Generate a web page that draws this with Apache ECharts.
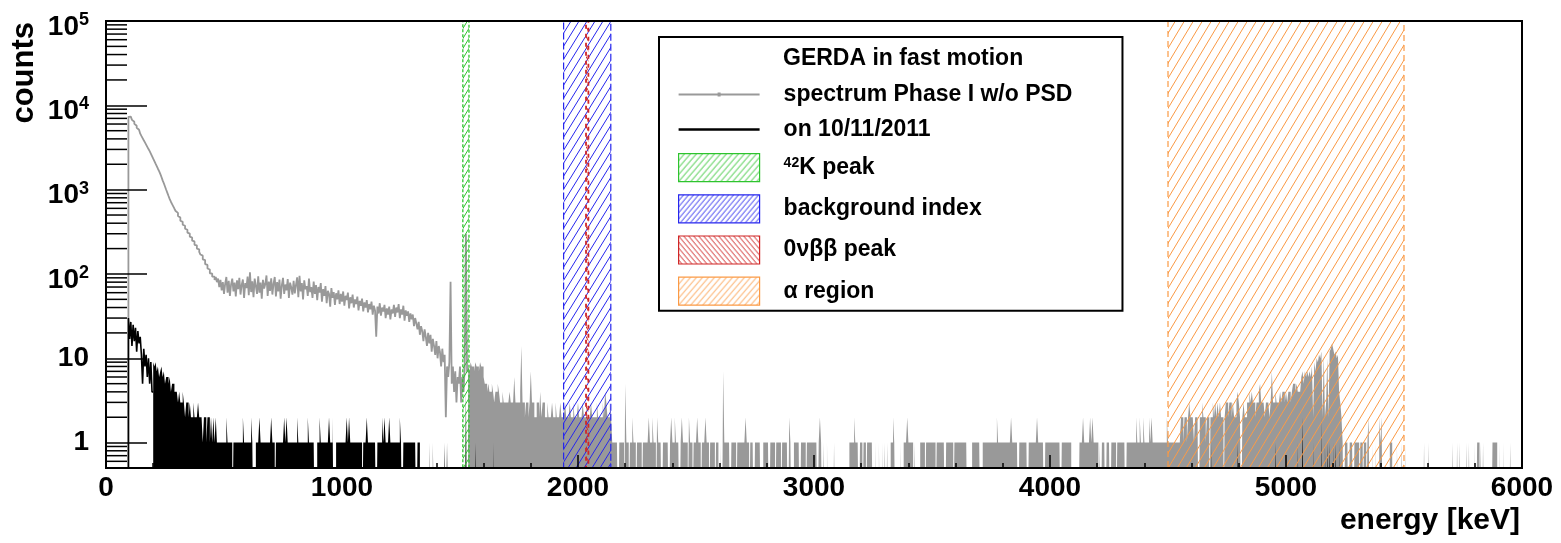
<!DOCTYPE html>
<html>
<head>
<meta charset="utf-8">
<title>GERDA spectrum</title>
<script src="https://cdn.jsdelivr.net/npm/echarts/dist/echarts.min.js"></script>
<style>
  html, body { margin: 0; padding: 0; background: #ffffff; }
  #chart { width: 1561px; height: 543px; }
</style>
</head>
<body>
<div id="chart"></div>
<script>
// ---------------------------------------------------------------------------
// Histogram contents, counts per 5 keV bin.
// ---------------------------------------------------------------------------
const BIN_KEV = 5;

// Phase I spectrum without PSD: low-energy part, bins from 95 keV
const grayCurveStart = 95;
const grayCurve = [
  7300,7350,7150,6730,6380,6040,5730,5420,5140,4870,4610,4340,4090,3850,3630,3420,3220,3030,2860,2680, // 95
  2500,2330,2180,2030,1900,1770,1660,1540,1410,1290,1190,1090,998,916,840,771,719,675,634,594,          // 195
  558,530,487,466,428,415,384,373,344,334,309,301,277,270,248,243,222,219,200,196,                      // 295
  183,170,165,149,146,131,128,116,113,102,101,93,93,85,92,80,88,70,85,64,                               // 395
  80,58,77,92,60,83,55,75,88,62,79,54,84,66,90,57,74,86,52,78,                                          // 495
  68,93,56,105,61,82,53,88,72,58,94,60,79,51,85,67,76,96,55,81,                                         // 595
  63,89,57,77,92,54,80,62,86,51,73,90,58,75,64,87,52,79,69,57,                                          // 695
  83,59,74,91,53,95,62,78,50,84,66,72,55,88,61,70,52,81,58,74,                                          // 795
  49,70,60,78,47,66,55,72,45,63,58,41,68,52,61,43,59,50,64,44,                                          // 895
  58,47,62,42,55,49,60,39,53,45,57,40,50,44,54,37,48,42,51,36,                                          // 995
  46,40,49,35,44,38,47,33,42,37,18,41,34,45,32,40,36,43,30,39,                                          // 1095
  33,41,29,38,34,43,31,40,35,44,30,38,33,42,28,37,32,36,27,34,                                          // 1195
  29,33,24,30,26,22,27,19,24,21,16,22,18,14,20,15,19,12,17,14,                                          // 1295
  11,16,10,14,12,8,13,9,11,2,8,6,9,81,5,8,4,7,3,6,                                                      // 1395
  5,8,3,6,4,8,300,7                                                                                      // 1495
];

// Phase I spectrum, sparse high-energy part, bins from 1535 keV
const grayTailStart = 1535;
const grayTail = [
  8,7,9,8,8,7,9,8,8,7,9,8,8,                          // 1535
  6,5,5,4,5,4,4,5,4,3,4,4,5,4,3,3,4,3,3,3,            // 1600
  3,3,4,3,3,3,6,3,3,3,3,4,14,3,3,2,3,3,2,3,           // 1700
  7,3,3,2,2,3,3,2,4,2,3,3,2,2,3,2,2,2,3,2,            // 1800
  2,3,2,2,2,3,2,2,2,3,2,2,2,3,2,2,3,2,2,2,            // 1900
  3,2,2,2,3,2,2,3,2,2,2,3,2,2,2,2,3,2,2,2,            // 2000
  2,3,2,4,3,2,2,3,2,1,1,1,1,1,0,1,1,1,1,0,            // 2100
  5,1,1,0,1,1,2,1,1,0,1,1,1,1,0,1,1,1,1,1,            // 2200
  2,1,1,2,1,1,0,2,1,1,1,0,1,1,1,1,1,0,1,2,            // 2300
  1,1,2,1,1,1,0,1,2,1,1,1,1,0,2,1,1,0,1,1,            // 2400
  1,2,1,1,0,1,1,1,2,1,1,0,1,1,1,1,0,1,1,0,            // 2500
  0,1,0,7,1,1,1,1,1,0,1,1,1,1,0,1,1,1,1,1,            // 2600
  1,1,2,1,1,0,1,1,1,0,1,1,1,1,1,0,0,1,1,1,            // 2700
  1,1,0,1,1,1,1,0,1,1,1,1,0,1,1,1,1,1,0,2,            // 2800
  1,0,0,1,1,1,1,1,0,1,1,1,1,0,1,1,1,1,1,1,            // 2900
  1,1,1,0,1,2,1,0,1,0,0,1,0,0,0,0,0,1,0,0,            // 3000
  0,0,0,0,0,0,0,0,0,0,1,1,1,1,2,1,1,1,0,1,            // 3100
  1,0,1,1,0,1,1,1,1,1,0,0,1,0,0,1,0,0,1,0,            // 3200
  1,0,1,0,0,1,1,2,1,0,0,0,0,1,0,0,1,1,1,2,            // 3300
  1,1,1,1,0,1,0,0,0,0,1,1,1,1,0,1,1,1,1,1,            // 3400
  1,1,1,0,1,1,1,1,1,1,1,0,1,1,1,1,1,1,0,1,            // 3500
  1,1,1,1,1,1,1,1,1,1,0,0,0,0,1,1,1,1,1,1,            // 3600
  1,0,0,1,1,1,1,1,1,1,1,1,1,1,1,2,1,1,1,1,            // 3700
  1,1,1,1,1,1,1,2,1,1,1,1,1,0,1,1,1,1,1,1,            // 3800
  1,0,1,1,1,1,1,1,1,2,1,1,1,1,1,0,1,1,1,1,            // 3900
  1,1,1,1,1,1,1,1,1,0,1,1,1,1,1,1,1,1,0,0,            // 4000
  0,0,0,0,0,1,1,1,2,1,1,1,1,1,2,1,2,1,1,1,            // 4100
  1,0,1,0,1,1,1,0,1,1,1,0,1,1,1,1,0,1,1,1,            // 4200
  1,1,1,1,0,1,1,1,1,1,1,1,1,2,1,1,2,1,1,2,            // 4300
  1,1,1,1,2,1,2,1,1,1,1,1,1,1,1,1,1,1,1,2,            // 4400
  1,1,1,1,1,1,1,1,1,1,1,2,2,1,2,2,1,2,3,2,            // 4500
  2,2,1,2,2,2,0,2,2,3,2,2,1,2,2,0,2,2,3,2,            // 4600
  3,2,3,2,3,2,2,0,2,3,3,2,3,3,2,3,2,2,3,4,            // 4700
  3,2,0,2,3,2,2,3,3,4,3,4,3,3,2,3,3,4,5,3,            // 4800
  3,3,2,3,3,3,2,3,7,3,3,4,3,3,3,4,3,4,4,3,            // 4900
  4,3,4,4,3,4,5,5,4,5,4,4,4,6,7,5,7,6,7,6,            // 5000
  7,6,8,2,9,7,10,9,11,10,12,2,11,2,3,10,2,12,13,15,   // 5100
  13,11,12,10,11,4,3,2,1,0,1,1,1,0,1,1,1,0,1,1,       // 5200
  1,1,0,1,1,0,1,1,0,1,2,0,0,1,0,0,1,0,0,2,            // 5300
  1,2,0,0,0,0,0,0,1,1,0,0,0,0,1,0,0,0,1,0,            // 5400
  0,1,0,0,0,0,0,0,0,0,0,0,0,0,0,0,0,1,0,0,            // 5500
  0,1,0,0,0,0,0,0,0,0,0,0,0,0,0,0,0,0,0,0,            // 5600
  0,1,0,0,0,1,0,1,0,0,0,0,0,1,0,1,0,0,0,0,            // 5700
  1,0,1,1,0,1,0,1,0,0,0,0,0,0,0,1,1,1,1,0,            // 5800
  0,1,0,0,1,0,0,0,0,0,1,0,0,0,0,0,0,0,0,0             // 5900
];

// Single day (10/11/2011): low-energy part, bins from 95 keV
const blackCurveStart = 95;
const blackCurve = [30,17,27,14,25,16,23,12,21,15,18,11,5,13,8,11,6,10,5,9,4];

// Single day, bins from 200 keV up to 1600 keV
const blackTail = [
  9,8,9,7,8,6,7,8,6,7,5,6,6,5,6,4,5,5,4,4,    // 200
  4,3,4,3,3,4,3,2,3,3,2,3,2,2,3,2,2,2,3,2,    // 300
  2,2,1,2,2,1,2,2,1,2,1,2,1,2,1,1,1,1,1,1,    // 400
  1,1,2,1,1,1,1,0,1,1,1,1,1,1,1,1,2,1,1,1,    // 500
  1,1,1,2,1,0,0,1,1,1,2,1,1,1,1,1,1,1,1,1,    // 600
  2,1,1,0,1,1,1,1,1,1,1,2,1,2,1,1,1,1,1,1,    // 700
  1,1,2,1,1,1,1,1,1,1,1,2,1,1,1,1,1,0,0,1,    // 800
  1,2,1,1,1,1,1,1,1,2,1,1,2,0,0,1,1,1,1,1,    // 900
  1,1,1,1,2,1,2,1,1,1,1,1,1,1,1,1,1,0,1,1,    // 1000
  1,2,1,1,1,1,1,1,1,0,1,1,1,1,2,1,2,1,1,1,    // 1100
  2,1,1,1,1,1,1,1,1,2,1,0,1,1,1,1,1,1,1,1,    // 1200
  1,1,1,0,1,1,0,0,0,0,0,0,0,0,1,0,0,1,0,0,    // 1300
  0,0,0,0,0,0,0,1,0,1,0,0,0,0,0,0,0,0,0,0,    // 1400
  0,0,0,0,0,4,0,0,0,0,0,0,0,1,0,0,0,0,0,0     // 1500
];
const blackTailStart = 200;

// Single day above 1600 keV: [bin start keV, counts], all other bins empty
const blackSparse = [
  [1640,1],[4685,1],[4795,1],[4955,1],[5050,1],[5070,2],[5115,1],
  [5150,2],[5165,1],[5175,1],[5185,1],[5200,1],[5210,1],[5225,1]
];

// Shaded energy windows (keV)
const bandNames = ['42K peak', 'background index', '0νββ peak', 'α region'];
const bandLow   = [1512, 1939, 2034, 4500];
const bandHigh  = [1538, 2139, 2044, 5500];

// Series / legend labels
const SPEC = 'spectrum Phase I w/o PSD';
const DAY = 'on 10/11/2011';
const LEGEND_TITLE = 'GERDA in fast motion';

// ---------------------------------------------------------------------------
const FONT = '"Liberation Sans", Arial, Helvetica, sans-serif';
const Y_MIN = 0.5, Y_MAX = 100000;
const X_MIN = 0, X_MAX = 6000;
const EMPTY = Y_MIN / 10;   // empty bins sit below the visible log range

// step outline points; optional vertical lead-in from the floor
function steps(start, vals, fromFloor) {
  const pts = fromFloor ? [[start, Y_MIN]] : [];
  vals.forEach((v, i) => pts.push([start + i * BIN_KEV, v > 0 ? v : EMPTY]));
  const last = vals[vals.length - 1];
  pts.push([start + vals.length * BIN_KEV, last > 0 ? last : EMPTY]);
  return pts;
}

const blackHigh = new Array((X_MAX - 1600) / BIN_KEV).fill(0);
blackSparse.forEach(([e, n]) => { blackHigh[(e - 1600) / BIN_KEV] = n; });
const blackTailAll = blackTail.concat(blackHigh);

// log-axis minor ticks at 2..9 x decade
const yMinorTicks = [];
[0.1, 1, 10, 100, 1000, 10000].forEach(d => {
  for (let m = 2; m <= 9; m++) {
    const v = m * d;
    if (v > Y_MIN && v < Y_MAX) yMinorTicks.push(v);
  }
});

// diagonal hatch fill
function hatch(color, w, h, dir, lw) {
  const c = document.createElement('canvas');
  c.width = w; c.height = h;
  const ctx = c.getContext('2d');
  ctx.strokeStyle = color;
  ctx.lineWidth = lw;
  ctx.beginPath();
  for (let k = -1; k <= 1; k++) {
    if (dir === '/') { ctx.moveTo(k * w, h); ctx.lineTo((k + 1) * w, 0); }
    else { ctx.moveTo(k * w, 0); ctx.lineTo((k + 1) * w, h); }
  }
  ctx.stroke();
  return { image: c, repeat: 'repeat' };
}

const bandStyle = [
  { color: '#2ec42e', plot: hatch('#2ec42e', 6, 10, '/', 1), legend: hatch('#2ec42e', 6, 7, '/', 1), dash: [3, 2], width: 1.3 },
  { color: '#2626ee', plot: hatch('#2626ee', 8, 13, '/', 1), legend: hatch('#2626ee', 5, 6, '/', 1), dash: [7, 3], width: 1.2 },
  { color: '#d02626', plot: hatch('#d02626', 6, 10, '\\', 1), legend: hatch('#d02626', 5, 6, '\\', 1), dash: [4, 5], width: 1.8 },
  { color: '#fb9a45', plot: hatch('#fb9a45', 9, 15, '/', 1), legend: hatch('#fb9a45', 6, 7, '/', 1), dash: [6, 4], width: 1.2 }
];

function lineHist(name, color, width, data, z) {
  return {
    type: 'line', name, data, z, step: 'end', symbol: 'none', showSymbol: false,
    clip: true, silent: true, animation: false,
    lineStyle: { color, width }, itemStyle: { color },
    emphasis: { disabled: true }
  };
}
function filledHist(name, color, data, z) {
  return {
    type: 'line', name, data, z, step: 'end', symbol: 'none', showSymbol: false,
    clip: true, silent: true, animation: false,
    lineStyle: { color, width: 0 }, itemStyle: { color },
    areaStyle: { color, opacity: 1, origin: 'start' },
    emphasis: { disabled: true }
  };
}

const bandSeries = bandNames.map((name, i) => ({
  type: 'custom', name, z: 5, silent: true, clip: true, animation: false,
  encode: { x: [0, 1], y: [2, 3] },
  data: [[bandLow[i], bandHigh[i], Y_MIN, Y_MAX]],
  itemStyle: { color: bandStyle[i].legend, borderColor: bandStyle[i].color },
  renderItem: (params, api) => {
    const a = api.coord([api.value(0), api.value(3)]);
    const b = api.coord([api.value(1), api.value(2)]);
    return {
      type: 'rect',
      shape: { x: a[0], y: a[1], width: b[0] - a[0], height: b[1] - a[1] },
      style: { fill: bandStyle[i].plot, stroke: bandStyle[i].color, lineWidth: bandStyle[i].width, lineDash: bandStyle[i].dash }
    };
  }
}));

const minorTickSeries = {
  type: 'custom', z: 10, silent: true, clip: false, animation: false,
  encode: { x: 0, y: 1 },
  data: yMinorTicks.map(v => [X_MIN, v]),
  renderItem: (params, api) => {
    const p = api.coord([api.value(0), api.value(1)]);
    return { type: 'line', shape: { x1: p[0], y1: p[1], x2: p[0] + 21, y2: p[1] }, style: { stroke: '#000', lineWidth: 1.5 } };
  }
};

const labelText = { fontFamily: FONT, fontWeight: 'bold', color: '#000' };

const option = {
  animation: false,
  backgroundColor: '#ffffff',
  grid: {
    left: 106, right: 39, top: 21, bottom: 75, containLabel: false, outerBoundsMode: 'none',
    show: true, borderColor: '#000', borderWidth: 2, backgroundColor: 'transparent', z: 7
  },
  title: {
    text: LEGEND_TITLE, left: 783, top: 47, padding: 0, z: 10,
    textStyle: Object.assign({ fontSize: 23 }, labelText)
  },
  legend: {
    orient: 'vertical', left: 659, top: 37, padding: [46, 50, 5, 19],
    itemWidth: 81, itemHeight: 28, itemGap: 12, selectedMode: false,
    backgroundColor: '#fff', borderColor: '#000', borderWidth: 2,
    textStyle: Object.assign({
      fontSize: 23, padding: [0, 0, 0, 19],
      rich: {
        sup: Object.assign({ fontSize: 14, verticalAlign: 'top' }, labelText),
        base: Object.assign({ fontSize: 23 }, labelText)
      }
    }, labelText),
    formatter: name => name === bandNames[0] ? '{sup|42}{base|K peak}' : name,
    data: [
      { name: SPEC, icon: 'path://M0 1H81V3H0Z M39 0H42V4H39Z', itemStyle: { color: '#999', borderWidth: 0 } },
      { name: DAY, icon: 'path://M0 0H81V2.5H0Z', itemStyle: { color: '#000', borderWidth: 0 } }
    ].concat(bandNames.map((name, i) => ({
      name, icon: 'rect',
      itemStyle: { color: bandStyle[i].legend, borderColor: bandStyle[i].color, borderWidth: 1.2 }
    })))
  },
  xAxis: {
    type: 'value', min: X_MIN, max: X_MAX, interval: 1000, z: 6,
    axisLine: { show: true, onZero: false, lineStyle: { color: '#000', width: 2 } },
    axisTick: { show: true, inside: true, length: 13, lineStyle: { color: '#000', width: 1.5 } },
    minorTick: { show: true, splitNumber: 5, length: 5, lineStyle: { color: '#000', width: 1.5 } },
    splitLine: { show: false },
    minorSplitLine: { show: false },
    axisLabel: Object.assign({ fontSize: 28, margin: 6, formatter: v => String(v) }, labelText)
  },
  yAxis: {
    type: 'log', logBase: 10, min: Y_MIN, max: Y_MAX, z: 6,
    axisLine: { show: true, onZero: false, lineStyle: { color: '#000', width: 2 } },
    axisTick: { show: true, inside: true, length: 41, lineStyle: { color: '#000', width: 1.5 } },
    splitLine: { show: false },
    axisLabel: Object.assign({
      fontSize: 28, margin: 17, showMinLabel: false,
      formatter: v => {
        const e = Math.round(Math.log10(v));
        return e >= 2 ? '{b|10}{s|' + e + '}' : '{n|' + Math.round(v) + '}';
      },
      rich: {
        n: Object.assign({ fontSize: 28 }, labelText),
        b: Object.assign({ fontSize: 28, padding: [12, 0, 0, 0], verticalAlign: 'bottom' }, labelText),
        s: Object.assign({ fontSize: 18, padding: [10, 0, 0, 0], verticalAlign: 'top' }, labelText)
      }
    }, labelText)
  },
  graphic: [
    {
      type: 'text', x: 24, y: 22, rotation: Math.PI / 2, silent: true,
      style: { text: 'counts', font: 'bold 31px ' + FONT, fill: '#000', align: 'right', verticalAlign: 'middle' }
    },
    {
      type: 'text', x: 1520, y: 521, silent: true,
      style: { text: 'energy [keV]', font: 'bold 30px ' + FONT, fill: '#000', align: 'right', verticalAlign: 'middle' }
    }
  ],
  series: [
    lineHist(SPEC, '#999999', 1.8, steps(grayCurveStart, grayCurve, true), 2),
    filledHist(SPEC, '#999999', steps(grayTailStart, grayTail, false), 2),
    lineHist(DAY, '#000000', 1.6, steps(blackCurveStart, blackCurve, true), 3),
    filledHist(DAY, '#000000', steps(blackTailStart, blackTailAll, false), 3)
  ].concat(bandSeries, [minorTickSeries])
};

const chart = echarts.init(document.getElementById('chart'), null, { renderer: 'canvas' });
chart.setOption(option);
</script>
</body>
</html>
